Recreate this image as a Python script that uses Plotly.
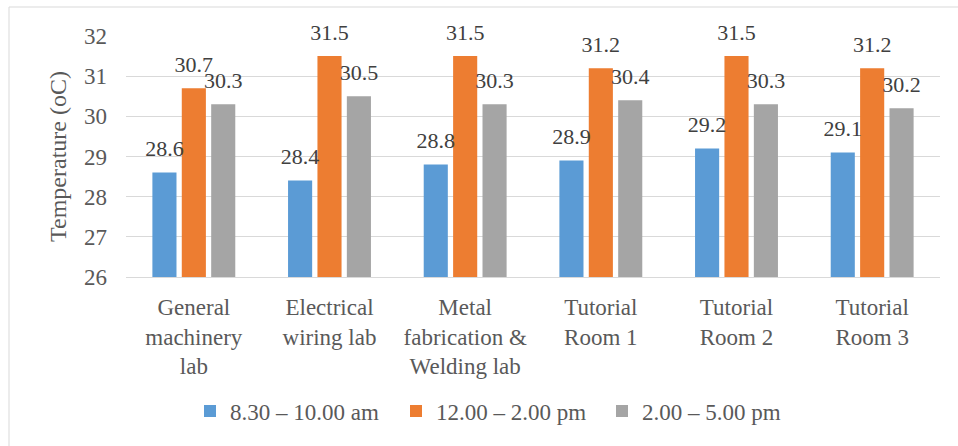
import plotly.graph_objects as go

categories = ["General<br>machinery<br>lab", "Electrical<br>wiring lab",
              "Metal<br>fabrication &<br>Welding lab", "Tutorial<br>Room 1",
              "Tutorial<br>Room 2", "Tutorial<br>Room 3"]
series_names = ["8.30 \u2013 10.00 am", "12.00 \u2013 2.00 pm", "2.00 \u2013 5.00 pm"]
morning = [28.6, 28.4, 28.8, 28.9, 29.2, 29.1]
midday = [30.7, 31.5, 31.5, 31.2, 31.5, 31.2]
afternoon = [30.3, 30.5, 30.3, 30.4, 30.3, 30.2]
y_ticks = [26, 27, 28, 29, 30, 31, 32]

colors = ["#5B9BD5", "#ED7D31", "#A5A5A5"]
FONT = "Liberation Serif, Times New Roman, serif"
TXT = "#595959"

fig = go.Figure()
for name, vals, col in zip(series_names, [morning, midday, afternoon], colors):
    fig.add_trace(go.Bar(x=categories, y=vals, name=name, marker_color=col,
                         marker_line_width=0, hoverinfo="skip"))
for vals in [morning, midday, afternoon]:
    fig.add_trace(go.Scatter(x=categories, y=vals, mode="markers+text",
                             text=[f"{v:.1f}" for v in vals],
                             textposition="top center",
                             textfont=dict(family=FONT, size=22, color="#404040"),
                             marker=dict(size=16, opacity=0),
                             showlegend=False, hoverinfo="skip", cliponaxis=False))

L, R, T, B = 126, 18, 36, 169
ph = 446 - T - B
pw = 958 - L - R

fig.update_layout(
    width=958, height=446,
    margin=dict(l=L, r=R, t=T, b=B),
    paper_bgcolor="white", plot_bgcolor="white",
    barmode="group", bargap=0.35, bargroupgap=0.18,
    scattermode="group", scattergap=0.35,
    font=dict(family=FONT, size=22, color=TXT),
    showlegend=True,
    legend=dict(orientation="h", x=(210 - 20 - L) / pw, xanchor="left",
                y=(277 - 411) / ph, yanchor="middle",
                font=dict(family=FONT, size=23, color=TXT),
                entrywidth=161, itemwidth=30, traceorder="normal"),
    xaxis=dict(showgrid=False, showline=True, linecolor="#D9D9D9", linewidth=1,
               ticks="", tickfont=dict(family=FONT, size=23, color=TXT),
               ticklabelstandoff=9, fixedrange=True),
    yaxis=dict(range=[26, 32], tickvals=y_ticks, showgrid=True,
               gridcolor="#D9D9D9", gridwidth=1, zeroline=False, showline=False,
               ticks="", tickfont=dict(family=FONT, size=23, color=TXT),
               ticklabelstandoff=18,
               title=dict(text="Temperature (oC)", standoff=10,
                          font=dict(family=FONT, size=24, color=TXT)),
               fixedrange=True),
    shapes=[dict(type="rect", xref="paper", yref="paper",
                 x0=(9 - L) / pw, x1=1.2, y0=-1.0, y1=(277 - 7) / ph,
                 line=dict(color="#D9D9D9", width=1), fillcolor="rgba(0,0,0,0)",
                 layer="below")],
)

fig.write_html("out.html", config={"displayModeBar": False, "staticPlot": True},
               post_script=["document.body.style.margin='0';"])
